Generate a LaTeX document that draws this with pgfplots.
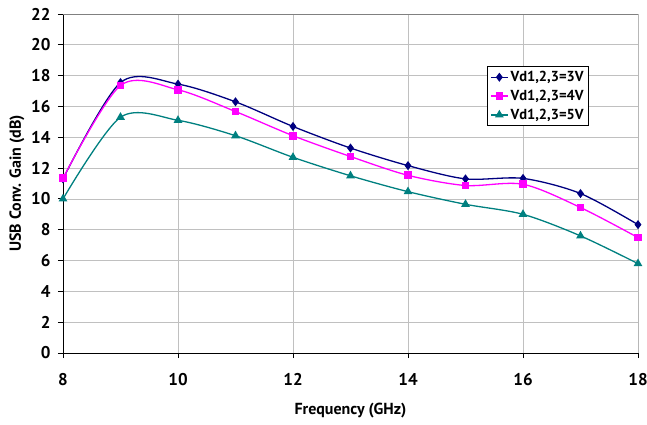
\documentclass[border=0pt]{standalone}
\usepackage{fontspec}
\setmainfont{PT Sans}
\usepackage{pgfplots}
\pgfplotsset{compat=1.18}

\definecolor{vthree}{HTML}{000080}
\definecolor{vfour}{HTML}{FF00FF}
\definecolor{vfive}{HTML}{008080}
\definecolor{gridgrey}{HTML}{C0C0C0}

\begin{document}
\begin{tikzpicture}
\begin{axis}[
  name=ax,
  scale only axis,
  width=575pt, height=339pt,
  xmin=8, xmax=18, ymin=0, ymax=22,
  xtick={8,10,...,18}, ytick={0,2,...,22},
  axis lines*=left,
  axis line style={black, line width=0.9pt},
  tick style={black, line width=0.9pt},
  tick align=outside,
  major tick length=5pt,
  grid=major,
  major grid style={gridgrey, line width=0.8pt},
  /pgf/number format/assume math mode=true,
  ticklabel style={font=\fontsize{17}{18}\selectfont\bfseries},
  xticklabel style={yshift=-12pt},
  yticklabel style={xshift=-4pt},
  xlabel={Frequency (GHz)},
  ylabel={USB Conv. Gain (dB)},
  label style={font=\fontsize{16}{17}\selectfont\bfseries},
  xlabel style={yshift=-10pt},
  ylabel style={yshift=0pt},
  legend style={at={(0.737,0.847)}, anchor=north west, draw=black, line width=0.8pt,
    font=\fontsize{14.5}{15}\selectfont\bfseries, row sep=3pt, inner sep=3pt},
  legend cell align=left,
  every axis plot/.append style={smooth, tension=0.5, line width=1.3pt},
]
\draw[gray, line width=0.8pt] (rel axis cs:0,1) -- (rel axis cs:1,1) -- (rel axis cs:1,0);
\addplot[vthree, mark=diamond*, mark size=3.5pt, mark options={solid}] coordinates {
  (8,11.3) (9,17.55) (10,17.45) (11,16.3) (12,14.7) (13,13.3)
  (14,12.16) (15,11.3) (16,11.33) (17,10.35) (18,8.33)};
\addplot[vfour, mark=square*, mark size=3.2pt] coordinates {
  (8,11.34) (9,17.36) (10,17.08) (11,15.67) (12,14.1) (13,12.75)
  (14,11.53) (15,10.87) (16,10.95) (17,9.44) (18,7.49)};
\addplot[vfive, mark=triangle*, mark size=3.8pt] coordinates {
  (8,10.0) (9,15.3) (10,15.1) (11,14.1) (12,12.7) (13,11.5)
  (14,10.47) (15,9.65) (16,9.0) (17,7.6) (18,5.8)};
\legend{Vd1{,}2{,}3=3V, Vd1{,}2{,}3=4V, Vd1{,}2{,}3=5V}
\end{axis}
\pgfresetboundingbox
\path[use as bounding box] ([shift={(-63pt,-72pt)}]ax.south west) rectangle ([shift={(9pt,14pt)}]ax.north east);
\end{tikzpicture}
\end{document}
